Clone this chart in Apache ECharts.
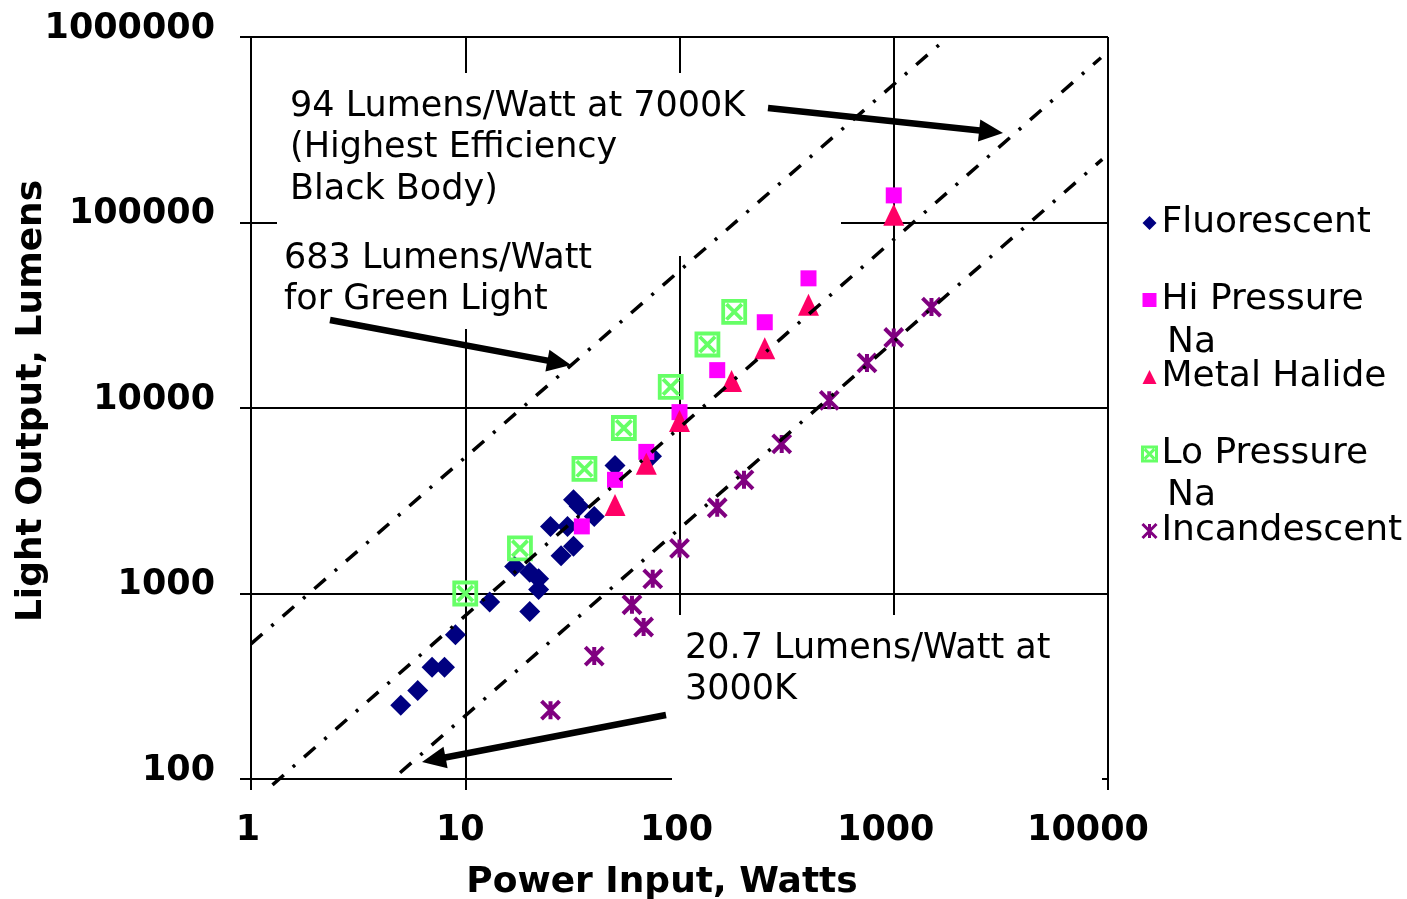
<!DOCTYPE html>
<html><head><meta charset="utf-8">
<script src="https://cdn.jsdelivr.net/npm/echarts@6/dist/echarts.min.js"></script>
<style>html,body{margin:0;padding:0;background:#fff}#c{width:1407px;height:899px}</style>
</head><body><div id="c"></div>
<script>
// ---- data ----
const xTicks = [1, 10, 100, 1000, 10000];
const yTicks = [100, 1000, 10000, 100000, 1000000];
const seriesNames = ['Fluorescent', 'Hi Pressure Na', 'Metal Halide', 'Lo Pressure Na', 'Incandescent'];

const fluorescent = [[5,250],[6,300],[7,400],[8,400],[9,600],[13,900],[20,800],[22,1050],[20,1300],[22,1200],[17,1400],[28,1600],[32,1800],[25,2300],[30,2300],[32,3200],[34,2950],[40,2600],[50,4900],[74,5500]];
const hiPressureNa = [[35,2300],[50,4100],[70,5800],[100,9500],[150,16000],[250,29000],[400,50000],[1000,140000]];
const metalHalide = [[50,3000],[70,5000],[100,8500],[175,14000],[250,21000],[400,36000],[1000,110000]];
const loPressureNa = [[10,1000],[18,1750],[36,4700],[55,7800],[91,13000],[135,22000],[180,33000]];
const incandescent = [[25,235],[40,460],[60,870],[68,660],[75,1200],[100,1750],[150,2900],[200,4100],[300,6400],[500,11000],[750,17500],[1000,24000],[1500,35000]];

// reference lines (end points)
const line683 = [[1,535],[1740,970000]];
const line94 = [[1.26,93],[9270,773000]];
const line207 = [[4.96,108],[9400,219000]];

// ---- chart ----
const FONT = 'DejaVu Sans';
const chart = echarts.init(document.getElementById('c'), null, {renderer:'canvas'});

const boxX = 'path://M0,0L20,0L20,20L0,20Z M3,3L17,17 M17,3L3,17';
const star = 'path://M0,0L16,16 M16,0L0,16 M8,0L8,16';

function tickText(v, ticks){
  const t = ticks.find(t => Math.abs(t - v) / t < 1e-6);
  return String(t != null ? t : Math.round(v));
}
const lab = {fontFamily:FONT, fontWeight:'bold', fontSize:35, color:'#000'};
const xRichKey = {1:'a',10:'b',100:'c',1000:'d',10000:'e'};

function arrow(x1,y1,x2,y2){
  const dx=x2-x1, dy=y2-y1, L=Math.hypot(dx,dy), ux=dx/L, uy=dy/L;
  const hl=24, hw=11;
  const bx=x2-ux*hl, by=y2-uy*hl;
  return [
    {type:'line', z:100, shape:{x1:x1,y1:y1,x2:bx+ux*3,y2:by+uy*3}, style:{stroke:'#000', lineWidth:6.5}},
    {type:'polygon', z:100, shape:{points:[[x2,y2],[bx-uy*hw,by+ux*hw],[bx+uy*hw,by-ux*hw]]}, style:{fill:'#000'}}
  ];
}

const dashLine = {color:'#000', width:3.5, type:[15,12,3,12], cap:'butt'};

const option = {
  animation:false,
  backgroundColor:'#fff',
  grid:{left:251, top:37, width:857, height:742, containLabel:false, outerBoundsMode:'none'},
  xAxis:{
    type:'log', logBase:10, min:xTicks[0], max:xTicks[xTicks.length-1],
    name:'Power Input, Watts', nameLocation:'middle', nameGap:86, nameMoveOverlap:false,
    nameTextStyle:{fontFamily:FONT, fontWeight:'bold', fontSize:36, color:'#000', padding:[0,35,0,0]},
    axisLine:{show:true, lineStyle:{color:'#000', width:2}},
    axisTick:{show:true, inside:false, length:11, lineStyle:{color:'#000', width:2}},
    minorTick:{show:false},
    splitLine:{show:true, lineStyle:{color:'#000', width:2}},
    axisLabel:{
      margin:34, showMinLabel:true, showMaxLabel:true,
      formatter: v => { const s = tickText(v, xTicks); return '{' + (xRichKey[s] || 'c') + '|' + s + '}'; },
      rich:{
        a:Object.assign({}, lab, {padding:[0,6,0,0]}),
        b:Object.assign({}, lab, {padding:[0,10,0,0]}),
        c:Object.assign({}, lab, {padding:[0,6,0,0]}),
        d:Object.assign({}, lab, {padding:[0,16,0,0]}),
        e:Object.assign({}, lab, {padding:[0,40,12,0]})
      }
    }
  },
  yAxis:{
    type:'log', logBase:10, min:yTicks[0], max:yTicks[yTicks.length-1],
    name:'Light Output, Lumens', nameLocation:'middle', nameGap:201, nameMoveOverlap:false,
    nameTextStyle:{fontFamily:FONT, fontWeight:'bold', fontSize:36, color:'#000', padding:[0,0,0,14]},
    axisLine:{show:true, lineStyle:{color:'#000', width:2}},
    axisTick:{show:true, inside:false, length:11, lineStyle:{color:'#000', width:2}},
    minorTick:{show:false},
    splitLine:{show:true, lineStyle:{color:'#000', width:2}},
    axisLabel:Object.assign({}, lab, {margin:36, showMinLabel:true, showMaxLabel:true,
      verticalAlign:'bottom', lineHeight:17,
      formatter: v => tickText(v, yTicks)})
  },
  legend:{
    orient:'vertical', left:1141, top:197, padding:0, itemGap:25, itemWidth:14, itemHeight:14,
    selectedMode:false,
    textStyle:{fontFamily:FONT, fontSize:36, lineHeight:40, color:'#000', padding:[0,0,12,0]},
    formatter: name => name.replace(/ Na$/, ''),
    data:[
      {name:seriesNames[0], icon:'diamond'},
      {name:seriesNames[1], icon:'rect'},
      {name:seriesNames[2], icon:'triangle'},
      {name:seriesNames[3], icon:boxX, itemStyle:{borderWidth:3}},
      {name:seriesNames[4], icon:star, itemStyle:{borderWidth:3}}
    ]
  },
  series:[
    {name:seriesNames[0], type:'scatter', z:3, data:fluorescent, symbol:'diamond', symbolSize:21,
      itemStyle:{color:'#000080', opacity:1}},
    {name:seriesNames[1], type:'scatter', z:3, data:hiPressureNa, symbol:'rect', symbolSize:16,
      itemStyle:{color:'#FF00FF', opacity:1}},
    {name:seriesNames[2], type:'scatter', z:3, data:metalHalide, symbol:'triangle', symbolSize:[21,22],
      itemStyle:{color:'#FF0066', opacity:1}},
    {name:seriesNames[3], type:'scatter', z:3, data:loPressureNa, symbol:boxX, symbolSize:22,
      itemStyle:{color:'rgba(0,0,0,0)', borderColor:'#66FF66', borderWidth:3.8, opacity:1}},
    {name:seriesNames[4], type:'scatter', z:3, data:incandescent, symbol:star, symbolSize:18,
      itemStyle:{color:'#800080', borderColor:'#800080', borderWidth:4, opacity:1}},
    {name:'683 lm/W', type:'line', z:5, data:line683, showSymbol:false, symbol:'none', clip:false, lineStyle:dashLine, silent:true},
    {name:'94 lm/W', type:'line', z:5, data:line94, showSymbol:false, symbol:'none', clip:false, lineStyle:dashLine, silent:true},
    {name:'20.7 lm/W', type:'line', z:5, data:line207, showSymbol:false, symbol:'none', clip:false, lineStyle:dashLine, silent:true}
  ],
  graphic:{elements:[
    // white boxes behind annotation texts (hide grid lines there)
    {type:'rect', z:1, shape:{x:277, y:73, width:564, height:183}, style:{fill:'#fff'}},
    {type:'rect', z:1, shape:{x:277, y:256, width:323, height:73}, style:{fill:'#fff'}},
    {type:'rect', z:1, shape:{x:672, y:615, width:430, height:185}, style:{fill:'#fff'}},
    {type:'text', z:100, left:290, top:86, style:{text:'94 Lumens/Watt at 7000K\n(Highest Efficiency\nBlack Body)', font:'35px "DejaVu Sans"', lineHeight:41.5, fill:'#000'}},
    {type:'text', z:100, left:284, top:238, style:{text:'683 Lumens/Watt\nfor Green Light', font:'35px "DejaVu Sans"', lineHeight:41.5, fill:'#000'}},
    {type:'text', z:100, left:685, top:628, style:{text:'20.7 Lumens/Watt at\n3000K', font:'35px "DejaVu Sans"', lineHeight:41, fill:'#000'}},
    {type:'text', z:100, left:1167, top:323, style:{text:'Na', font:'36px "DejaVu Sans"', lineHeight:40, fill:'#000'}},
    {type:'text', z:100, left:1167, top:476, style:{text:'Na', font:'36px "DejaVu Sans"', lineHeight:40, fill:'#000'}}
  ].concat(arrow(768,108,1003,133), arrow(330,320,571,365), arrow(666,715,422,762))}
};
chart.setOption(option);
</script>
</body></html>
